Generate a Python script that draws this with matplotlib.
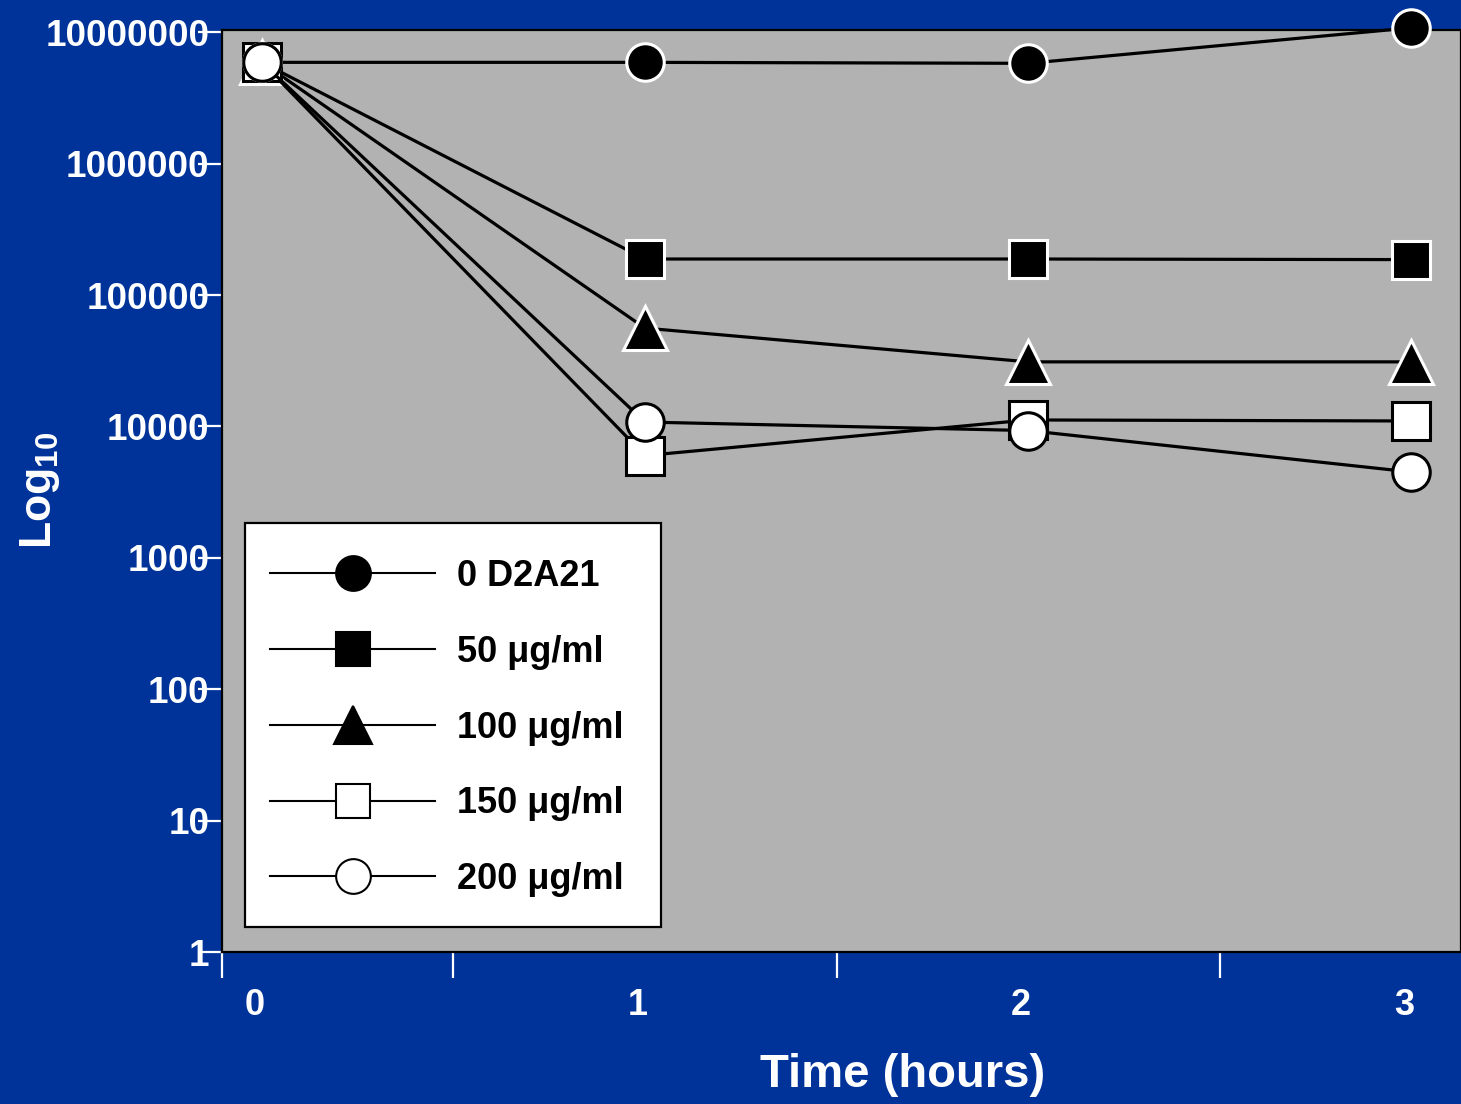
import matplotlib
matplotlib.use('Agg')
import matplotlib.pyplot as plt
from matplotlib.lines import Line2D
from matplotlib.patches import Rectangle
from matplotlib.transforms import ScaledTranslation

plt.rcParams['font.family'] = ['Liberation Sans', 'DejaVu Sans']
plt.rcParams['font.weight'] = 'bold'
plt.rcParams['mathtext.fontset'] = 'custom'
plt.rcParams['mathtext.rm'] = 'Liberation Sans:bold'
plt.rcParams['mathtext.bf'] = 'Liberation Sans:bold'

BLUE = '#003399'
GRAY = '#b2b2b2'

# time points (hours)
hours = [0, 1, 2, 3]

# viable counts per concentration
series_labels = ['0 D2A21', '50 \u03bcg/ml', '100 \u03bcg/ml', '150 \u03bcg/ml', '200 \u03bcg/ml']
counts_0 = [5.9e6, 5.9e6, 5.8e6, 1.08e7]
counts_50 = [5.9e6, 1.88e5, 1.88e5, 1.86e5]
counts_100 = [5.9e6, 5.6e4, 3.1e4, 3.1e4]
counts_150 = [5.9e6, 6.0e3, 1.12e4, 1.1e4]
counts_200 = [5.9e6, 1.08e4, 9.3e3, 4.5e3]

ytick_vals = [1, 10, 100, 1000, 10000, 100000, 1000000, 10000000]
ytick_labels = ['1', '10', '100', '1000', '10000', '100000', '1000000', '10000000']

# (data, marker, face, edge, size)
styles = [
    (counts_50, 's', 'black', 'white', 27),
    (counts_100, '^', 'black', 'white', 31),
    (counts_150, 's', 'white', 'black', 27),
    (counts_0, 'o', 'black', 'white', 27),
    (counts_200, 'o', 'white', 'black', 27),
]

fig = plt.figure(figsize=(14.61, 11.04), dpi=100)
fig.patch.set_facecolor(BLUE)
ax = fig.add_axes([222 / 1461, 1 - 952 / 1104, 1 - 222 / 1461, 922 / 1104])
ax.set_facecolor(GRAY)

for data, mk, fc, ec, ms in styles:
    ax.plot(hours, data, color='black', lw=2.3, marker=mk, ms=ms,
            mfc=fc, mec=ec, mew=2.2, clip_on=False, zorder=3)

ax.set_yscale('log')
ax.set_xlim(-0.104, 3.13)
ax.set_ylim(1, 1.04e7)

ax.set_yticks(ytick_vals)
ax.set_yticklabels(ytick_labels)
ax.yaxis.set_minor_locator(matplotlib.ticker.NullLocator())
ax.tick_params(axis='y', which='major', direction='out', length=17, width=1.6,
               color='white', labelcolor='white', labelsize=26.5, pad=-8)

ax.set_xticks(hours)
ax.set_xticklabels([str(h) for h in hours])
ax.set_xticks([-0.104, 0.5, 1.5, 2.5], minor=True)
ax.tick_params(axis='x', which='major', length=0, labelcolor='white',
               labelsize=26, pad=26)
ax.tick_params(axis='x', which='minor', direction='out', length=19, width=1.6,
               color='white')
for lab in ax.get_xticklabels():
    lab.set_transform(lab.get_transform() + ScaledTranslation(-0.07, 0, fig.dpi_scale_trans))

for side in ['left', 'bottom', 'top', 'right']:
    ax.spines[side].set_color('black')
    ax.spines[side].set_linewidth(1.6)

fig.text(903 / 1461, 1 - 1075 / 1104, 'Time (hours)', color='white',
         fontsize=34, fontweight='bold', ha='center', va='center')
fig.text(40 / 1461, 1 - 490 / 1104, r'Log$_{\rm 10}$', color='white',
         fontsize=32, fontweight='bold', ha='center', va='center', rotation=90)

# legend box drawn separately, entries placed inside it
box = Rectangle((23 / 1239, 25 / 922), 416 / 1239, 404 / 922, transform=ax.transAxes,
                facecolor='white', edgecolor='black', lw=1.6, zorder=4)
ax.add_patch(box)

leg_styles = [('o', 'black'), ('s', 'black'), ('^', 'black'), ('s', 'white'), ('o', 'white')]
handles = [Line2D([0], [0], color='black', lw=1.5, marker=mk, ms=25 if mk != '^' else 28,
                  mfc=fc, mec='black', mew=1.5)
           for mk, fc in leg_styles]
leg = ax.legend(handles, series_labels, loc='center left',
                bbox_to_anchor=(48 / 1239, 224 / 922), borderaxespad=0,
                prop={'weight': 'bold', 'size': 26},
                handlelength=4.57, handletextpad=0.6, labelspacing=1.13,
                borderpad=0, frameon=False)
leg.set_zorder(5)

fig.savefig('out.png', dpi=100, facecolor=BLUE)
